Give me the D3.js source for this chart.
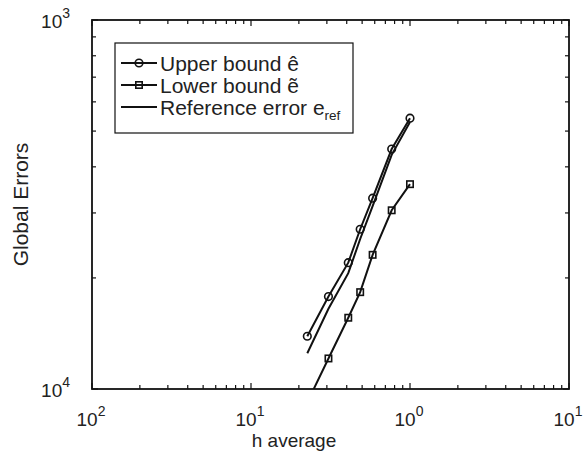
<!DOCTYPE html>
<html>
<head>
<meta charset="utf-8">
<script src="https://cdn.jsdelivr.net/npm/d3@7"></script>
<style>
  html, body { margin: 0; padding: 0; background: #fff; }
  svg { display: block; font-family: "Liberation Sans", Arial, Helvetica, sans-serif; }
</style>
</head>
<body>
<svg id="chart" width="584" height="462"></svg>
<script>
// ---- data ----
const hAverage = [1.0, 0.767, 0.582, 0.486, 0.409, 0.307, 0.226];
const upperBound = [5.42e-4, 4.47e-4, 3.29e-4, 2.71e-4, 2.20e-4, 1.78e-4, 1.39e-4];
const lowerBound = [3.59e-4, 3.05e-4, 2.31e-4, 1.83e-4, 1.56e-4, 1.21e-4, 9.2e-5];
const referenceError = [5.29e-4, 4.31e-4, 3.13e-4, 2.55e-4, 2.06e-4, 1.65e-4, 1.25e-4];

const xTickValues = [0.01, 0.1, 1, 10];
const xTickExponents = ["2", "1", "0", "1"];
const yTickValues = [1e-4, 1e-3];
const yTickExponents = ["4", "3"];

const seriesNames = ["Upper bound ", "Lower bound ", "Reference error e"];

// ---- layout ----
const svg = d3.select("#chart");
const L = 92, R = 569, T = 20, B = 389;
const x = d3.scaleLog().domain([0.01, 10]).range([L, R]);
const y = d3.scaleLog().domain([1e-4, 1e-3]).range([B, T]);

svg.append("rect").attr("width", 584).attr("height", 462).attr("fill", "#fff");

svg.append("defs").append("clipPath").attr("id", "clip")
  .append("rect").attr("x", L).attr("y", T).attr("width", R - L).attr("height", B - T);

// minor + major tick lists
const xTicksAll = [];
for (let e = -2; e <= 1; e++) for (let m = 1; m <= 9; m++) { const v = m * Math.pow(10, e); if (v <= 10.0001) xTicksAll.push(v); }
const yTicksAll = [];
for (let m = 1; m <= 10; m++) yTicksAll.push(m * 1e-4);

const isMajor = v => Math.abs(Math.log10(v) - Math.round(Math.log10(v))) < 1e-6;
const majLen = 6, minLen = 4;

const ax = svg.append("g").attr("stroke", "#111").attr("stroke-width", 1.2);
xTicksAll.forEach(v => {
  const px = x(v), len = isMajor(v) ? majLen : minLen;
  ax.append("line").attr("x1", px).attr("x2", px).attr("y1", B).attr("y2", B - len);
  ax.append("line").attr("x1", px).attr("x2", px).attr("y1", T).attr("y2", T + len);
});
yTicksAll.forEach(v => {
  const py = y(v), len = isMajor(v) ? majLen : minLen;
  ax.append("line").attr("x1", L).attr("x2", L + len).attr("y1", py).attr("y2", py);
  ax.append("line").attr("x1", R).attr("x2", R - len).attr("y1", py).attr("y2", py);
});

// frame
svg.append("rect").attr("x", L).attr("y", T).attr("width", R - L).attr("height", B - T)
  .attr("fill", "none").attr("stroke", "#111").attr("stroke-width", 1.8);

// tick labels
const fs = 19;
xTickValues.forEach((v, i) => {
  const t = svg.append("text").attr("x", x(v) - 1).attr("y", 426).attr("text-anchor", "middle")
    .attr("font-size", fs).attr("fill", "#222");
  t.append("tspan").text("10");
  t.append("tspan").attr("dy", -10).attr("font-size", 14).text(xTickExponents[i]);
});
yTickValues.forEach((v, i) => {
  const t = svg.append("text").attr("x", 70).attr("y", y(v) + 8).attr("text-anchor", "end")
    .attr("font-size", fs).attr("fill", "#222");
  t.append("tspan").text("10");
  t.append("tspan").attr("dy", -10).attr("font-size", 14).text(yTickExponents[i]);
});

// axis labels
svg.append("text").attr("x", 294).attr("y", 447).attr("text-anchor", "middle")
  .attr("font-size", 19).attr("fill", "#222").text("h average");
svg.append("text").attr("transform", `translate(28,${(T + B) / 2}) rotate(-90)`)
  .attr("text-anchor", "middle").attr("font-size", 21).attr("fill", "#222").text("Global Errors");

// data
const plot = svg.append("g").attr("clip-path", "url(#clip)");
const line = d3.line().x(d => x(d[0])).y(d => y(d[1]));
const upPts = hAverage.map((h, i) => [h, upperBound[i]]);
const loPts = hAverage.map((h, i) => [h, lowerBound[i]]);
const refPts = hAverage.map((h, i) => [h, referenceError[i]]);

[upPts, loPts, refPts].forEach(pts => {
  plot.append("path").attr("d", line(pts)).attr("fill", "none")
    .attr("stroke", "#111").attr("stroke-width", 2);
});
plot.selectAll(".c").data(upPts).enter().append("circle")
  .attr("cx", d => x(d[0])).attr("cy", d => y(d[1])).attr("r", 3.8)
  .attr("fill", "none").attr("stroke", "#111").attr("stroke-width", 1.6);
plot.selectAll(".s").data(loPts).enter().append("rect")
  .attr("x", d => x(d[0]) - 3.2).attr("y", d => y(d[1]) - 3.2).attr("width", 6.4).attr("height", 6.4)
  .attr("fill", "none").attr("stroke", "#111").attr("stroke-width", 1.6);

// legend
const lg = svg.append("g");
lg.append("rect").attr("x", 115).attr("y", 43).attr("width", 238).attr("height", 90)
  .attr("fill", "#fff").attr("stroke", "#111").attr("stroke-width", 1.2);
const rows = [63, 85, 107];
rows.forEach((ry, i) => {
  lg.append("line").attr("x1", 121).attr("x2", 157).attr("y1", ry).attr("y2", ry)
    .attr("stroke", "#111").attr("stroke-width", 2);
  if (i === 0) lg.append("circle").attr("cx", 139).attr("cy", ry).attr("r", 3.8)
    .attr("fill", "none").attr("stroke", "#111").attr("stroke-width", 1.6);
  if (i === 1) lg.append("rect").attr("x", 139 - 3.2).attr("y", ry - 3.2).attr("width", 6.4).attr("height", 6.4)
    .attr("fill", "none").attr("stroke", "#111").attr("stroke-width", 1.6);
  const t = lg.append("text").attr("x", 160).attr("y", ry + 7.5).attr("font-size", 21).attr("fill", "#222");
  t.append("tspan").text(seriesNames[i]);
  if (i === 0) t.append("tspan").text("ê");
  if (i === 1) t.append("tspan").text("ẽ");
  if (i === 2) t.append("tspan").attr("dy", 5).attr("font-size", 13.5).text("ref");
});
</script>
</body>
</html>
